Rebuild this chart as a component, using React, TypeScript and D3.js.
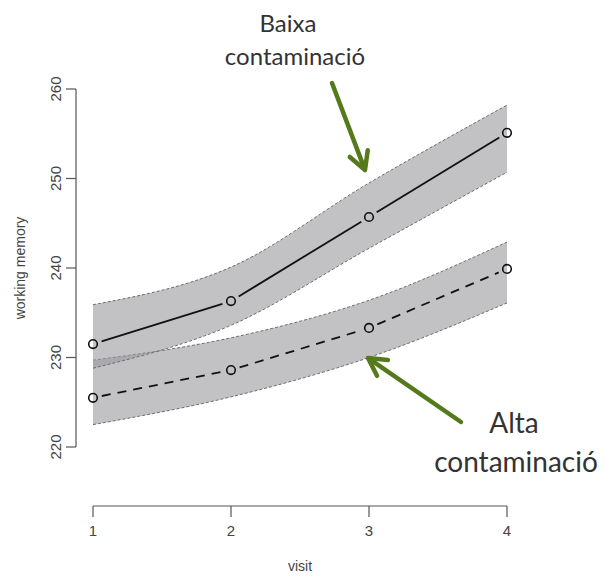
import React from "react";
import * as d3 from "d3";

const visits = [1, 2, 3, 4];
const baixaMean = [231.5, 236.3, 245.7, 255.1];
const baixaLower = [228.8, 233.6, 242.2, 250.7];
const baixaUpper = [235.9, 240.1, 249.5, 258.2];
const altaMean = [225.5, 228.6, 233.3, 239.9];
const altaLower = [222.5, 225.6, 230.0, 236.1];
const altaUpper = [229.7, 232.2, 236.4, 242.9];
const yTicks = [220, 230, 240, 250, 260];
const xTicks = [1, 2, 3, 4];

const W = 605;
const H = 578;

export default function App() {
  const x = d3.scaleLinear().domain([1, 4]).range([93, 507]);
  const y = d3.scaleLinear().domain([220, 260]).range([447, 89]);

  const area = (lo: number[], hi: number[]) =>
    d3
      .area<number>()
      .x((d) => x(d))
      .y0((_, i) => y(lo[i]))
      .y1((_, i) => y(hi[i]))
      .curve(d3.curveMonotoneX)(visits) as string;
  const edge = (vals: number[]) =>
    d3
      .line<number>()
      .x((d) => x(d))
      .y((_, i) => y(vals[i]))
      .curve(d3.curveMonotoneX)(visits) as string;

  const segs = (vals: number[]) => {
    const out: { x1: number; y1: number; x2: number; y2: number }[] = [];
    for (let i = 0; i < visits.length - 1; i++) {
      const ax = x(visits[i]), ay = y(vals[i]);
      const bx = x(visits[i + 1]), by = y(vals[i + 1]);
      const len = Math.hypot(bx - ax, by - ay);
      const g = 9;
      const ux = (bx - ax) / len, uy = (by - ay) / len;
      out.push({ x1: ax + ux * g, y1: ay + uy * g, x2: bx - ux * g, y2: by - uy * g });
    }
    return out;
  };

  const bandFill = "#9a9a9e";
  const edgeColor = "#6e6e6e";
  const green = "#557a1c";

  const arrow = (x1: number, y1: number, x2: number, y2: number) => {
    const a = Math.atan2(y2 - y1, x2 - x1);
    const hl = 20, spread = 0.5;
    const p1 = [x2 - hl * Math.cos(a - spread), y2 - hl * Math.sin(a - spread)];
    const p2 = [x2 - hl * Math.cos(a + spread), y2 - hl * Math.sin(a + spread)];
    return (
      <g stroke={green} strokeWidth={4.5} strokeLinecap="round" strokeLinejoin="round" fill="none">
        <line x1={x1} y1={y1} x2={x2 - 2 * Math.cos(a)} y2={y2 - 2 * Math.sin(a)} />
        <polyline points={`${p1[0]},${p1[1]} ${x2},${y2} ${p2[0]},${p2[1]}`} />
      </g>
    );
  };

  const axisColor = "#555";
  const labelFont = "'Liberation Sans', Arial, sans-serif";

  return (
    <svg
      width={W}
      height={H}
      style={{ position: "absolute", left: 0, top: 0, background: "#fff" }}
    >
      {/* bands */}
      {[
        [altaLower, altaUpper],
        [baixaLower, baixaUpper],
      ].map(([lo, hi], k) => (
        <g key={k}>
          <path d={area(lo, hi)} fill={bandFill} fillOpacity={0.6} stroke="none" />
          <path d={edge(lo)} fill="none" stroke={edgeColor} strokeWidth={1} strokeDasharray="3,2" />
          <path d={edge(hi)} fill="none" stroke={edgeColor} strokeWidth={1} strokeDasharray="3,2" />
        </g>
      ))}

      {/* mean lines */}
      {segs(baixaMean).map((s, i) => (
        <line key={"b" + i} {...s} stroke="#111" strokeWidth={1.8} />
      ))}
      {segs(altaMean).map((s, i) => (
        <line key={"a" + i} {...s} stroke="#111" strokeWidth={1.8} strokeDasharray="9,7" />
      ))}
      {visits.map((v, i) => (
        <circle key={"cb" + i} cx={x(v)} cy={y(baixaMean[i])} r={4.3} fill="none" stroke="#111" strokeWidth={1.6} />
      ))}
      {visits.map((v, i) => (
        <circle key={"ca" + i} cx={x(v)} cy={y(altaMean[i])} r={4.3} fill="none" stroke="#111" strokeWidth={1.6} />
      ))}

      {/* y axis */}
      <line x1={76} x2={76} y1={y(260)} y2={y(220)} stroke={axisColor} strokeWidth={1.2} />
      {yTicks.map((t) => (
        <g key={t}>
          <line x1={66} x2={76} y1={y(t)} y2={y(t)} stroke={axisColor} strokeWidth={1.2} />
          <text
            transform={`translate(55,${y(t)}) rotate(-90)`}
            textAnchor="middle"
            dominantBaseline="central"
            fontFamily={labelFont}
            fontSize={15}
            fill="#444"
          >
            {t}
          </text>
        </g>
      ))}
      <text
        transform={`translate(20,${y(240)}) rotate(-90)`}
        textAnchor="middle"
        dominantBaseline="central"
        fontFamily={labelFont}
        fontSize={14}
        fill="#444"
      >
        working memory
      </text>

      {/* x axis */}
      <line x1={x(1)} x2={x(4)} y1={506} y2={506} stroke={axisColor} strokeWidth={1.2} />
      {xTicks.map((t) => (
        <g key={t}>
          <line x1={x(t)} x2={x(t)} y1={506} y2={517} stroke={axisColor} strokeWidth={1.2} />
          <text x={x(t)} y={530} textAnchor="middle" dominantBaseline="central" fontFamily={labelFont} fontSize={15} fill="#444">
            {t}
          </text>
        </g>
      ))}
      <text x={300} y={566} textAnchor="middle" dominantBaseline="central" fontFamily={labelFont} fontSize={14} fill="#444">
        visit
      </text>

      {/* annotations */}
      <text x={288} y={32} textAnchor="middle" fontFamily="Lato, sans-serif" fontSize={24} fill="#333">
        Baixa
      </text>
      <text x={295} y={65} textAnchor="middle" fontFamily="Lato, sans-serif" fontSize={24} fill="#333">
        contaminació
      </text>
      {arrow(332, 83, 365, 170)}

      <text x={514} y={433} textAnchor="middle" fontFamily="Lato, sans-serif" fontSize={28} fill="#333">
        Alta
      </text>
      <text x={516} y={472} textAnchor="middle" fontFamily="Lato, sans-serif" fontSize={28} fill="#333">
        contaminació
      </text>
      {arrow(461, 422, 368, 358)}
    </svg>
  );
}
